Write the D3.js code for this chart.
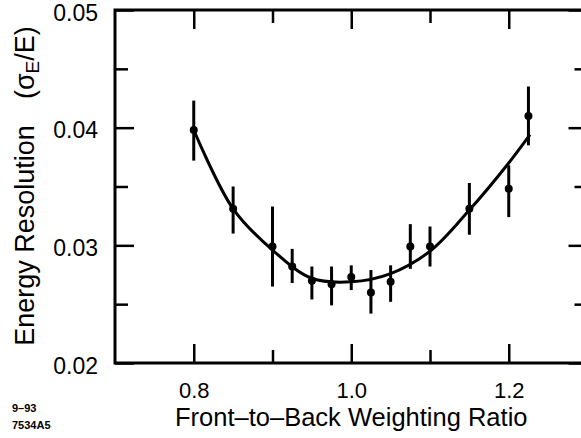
<!DOCTYPE html>
<html>
<head>
<meta charset="utf-8">
<script src="https://cdn.jsdelivr.net/npm/d3@7"></script>
<style>
  body { margin: 0; background: #fff; }
  svg { display: block; }
  text { font-family: "Liberation Sans", Arial, Helvetica, sans-serif; fill: #000; }
</style>
</head>
<body>
<svg class="main" width="581" height="438"></svg>
<script>
// данные
const ratio = [0.8, 0.85, 0.9, 0.925, 0.95, 0.975, 1.0, 1.025, 1.05, 1.075, 1.1, 1.15, 1.2, 1.225];
const resolution = [0.0398, 0.0331, 0.0299, 0.0282, 0.0270, 0.0267, 0.0273, 0.0260, 0.0269, 0.0299, 0.0299, 0.0331, 0.0348, 0.0410];
const errHigh = [0.0423, 0.0350, 0.0333, 0.0297, 0.0282, 0.0282, 0.0283, 0.0279, 0.0283, 0.0318, 0.0316, 0.0353, 0.0368, 0.0435];
const errLow = [0.0372, 0.0310, 0.0265, 0.0268, 0.0254, 0.0249, 0.0262, 0.0242, 0.0252, 0.0280, 0.0282, 0.0309, 0.0324, 0.0385];

// подгонка (кривая), точки
const fitX = [0.8, 0.85, 0.9, 0.95, 1.0, 1.05, 1.1, 1.15, 1.2, 1.227];
const fitY = [0.0398, 0.0331, 0.0296, 0.0272, 0.0269, 0.0276, 0.0295, 0.0330, 0.0370, 0.0394];

const xMajor = [0.8, 1.0, 1.2];
const xMinor = [0.9, 1.1];
const yMajor = [0.02, 0.03, 0.04, 0.05];
const yMinor = [0.025, 0.035, 0.045];

const svg = d3.select("svg.main");

const x = d3.scaleLinear().domain([0.7, 1.3]).range([115, 587.5]);
const y = d3.scaleLinear().domain([0.02, 0.05]).range([363, 10]);

const fmtX = d3.format(".1f");
const fmtY = d3.format(".2f");

// оси: засечки направлены внутрь
function addAxis(axis, tx, ty, fontSize) {
    const g = svg.append("g")
        .attr("transform", `translate(${tx},${ty})`)
        .call(axis);
    g.select(".domain").remove();
    g.selectAll(".tick line").attr("stroke", "#000").attr("stroke-width", 2.5);
    if (!fontSize) g.selectAll(".tick text").remove();
    else g.selectAll(".tick text").attr("font-size", fontSize).attr("fill", "#000")
        .style("font-family", '"Liberation Sans", Arial, Helvetica, sans-serif');
    return g;
}

addAxis(d3.axisBottom(x).tickValues(xMajor).tickSize(-19).tickPadding(19).tickFormat(fmtX), 0, y(0.02), 22);
addAxis(d3.axisBottom(x).tickValues(xMinor).tickSize(-13), 0, y(0.02));
addAxis(d3.axisTop(x).tickValues(xMajor).tickSize(-19), 0, y(0.05));
addAxis(d3.axisTop(x).tickValues(xMinor).tickSize(-13), 0, y(0.05));

const yAx = addAxis(d3.axisLeft(y).tickValues(yMajor).tickSize(-19).tickPadding(17).tickFormat(fmtY), x(0.7), 0, 23);
yAx.selectAll(".tick text").attr("dy", 10);
addAxis(d3.axisLeft(y).tickValues(yMinor).tickSize(-13), x(0.7), 0);
addAxis(d3.axisRight(y).tickValues(yMajor).tickSize(-19), x(1.3), 0);
addAxis(d3.axisRight(y).tickValues(yMinor).tickSize(-13), x(1.3), 0);

// рамка
svg.append("rect")
    .attr("x", x(0.7)).attr("y", y(0.05))
    .attr("width", x(1.3) - x(0.7)).attr("height", y(0.02) - y(0.05))
    .attr("fill", "none").attr("stroke", "#000").attr("stroke-width", 3);

// кривая
const line = d3.line()
    .x((d, i) => x(fitX[i]))
    .y((d) => y(d))
    .curve(d3.curveCatmullRom);
svg.append("path")
    .attr("d", line(fitY))
    .attr("fill", "none")
    .attr("stroke", "#000")
    .attr("stroke-width", 3);

// погрешности
svg.append("g").selectAll("line")
    .data(ratio)
    .join("line")
    .attr("x1", (d) => x(d)).attr("x2", (d) => x(d))
    .attr("y1", (d, i) => y(errLow[i]))
    .attr("y2", (d, i) => y(errHigh[i]))
    .attr("stroke", "#000")
    .attr("stroke-width", 3);

// точки
svg.append("g").selectAll("circle")
    .data(ratio)
    .join("circle")
    .attr("cx", (d) => x(d))
    .attr("cy", (d, i) => y(resolution[i]))
    .attr("r", 4)
    .attr("fill", "#000");

// подписи осей
svg.append("text")
    .attr("x", (x(0.7) + x(1.3)) / 2)
    .attr("y", 426)
    .attr("text-anchor", "middle")
    .attr("font-size", 25.5)
    .text("Front\u2013to\u2013Back Weighting Ratio");

const yl = svg.append("text")
    .attr("transform", "translate(34,186) rotate(-90)")
    .attr("text-anchor", "middle")
    .attr("font-size", 27);
yl.append("tspan").text("Energy Resolution");
yl.append("tspan").attr("dx", 26).text("(\u03c3");
yl.append("tspan").attr("font-size", 19).attr("baseline-shift", "-5").text("E");
yl.append("tspan").text("/E)");

// пометка в углу
svg.append("text").attr("x", 12).attr("y", 412)
    .attr("font-size", 11).attr("font-weight", "bold").text("9\u201393");
svg.append("text").attr("x", 12).attr("y", 429)
    .attr("font-size", 11).attr("font-weight", "bold").text("7534A5");
</script>
</body>
</html>
